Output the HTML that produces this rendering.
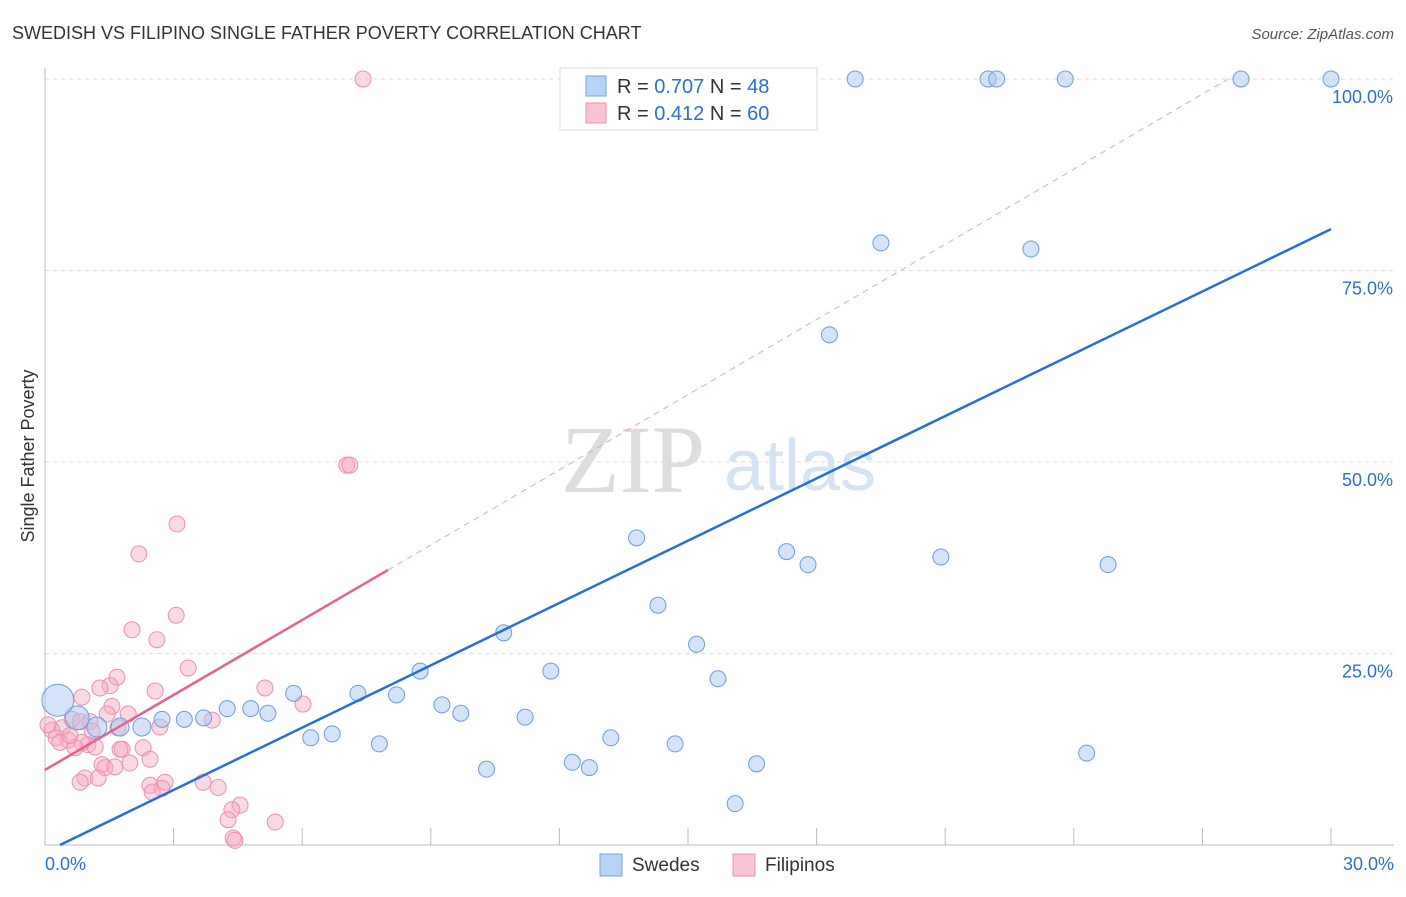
<!DOCTYPE html>
<html><head><meta charset="utf-8"><style>
body{margin:0;background:#fff;font-family:"Liberation Sans",sans-serif}
</style></head><body>
<svg width="1406" height="892" viewBox="0 0 1406 892" xmlns="http://www.w3.org/2000/svg">
<text x="12" y="39" font-size="18" fill="#333">SWEDISH VS FILIPINO SINGLE FATHER POVERTY CORRELATION CHART</text>
<text x="1394" y="39" font-size="15" fill="#555" font-style="italic" text-anchor="end">Source: ZipAtlas.com</text>
<text x="633" y="492" font-size="96" fill="#ddd" font-family="Liberation Serif" text-anchor="middle">ZIP</text>
<text x="800" y="490" font-size="72" fill="#d5e3f3" text-anchor="middle">atlas</text>
<g id="grid"></g><g id="axes"></g><g id="pts"></g><g id="lines"></g>
<text x="34" y="456" font-size="18" fill="#333" transform="rotate(-90 34 456)" text-anchor="middle">Single Father Poverty</text>
<g>
<rect x="560" y="68" width="257" height="62" fill="#fff" stroke="#ddd"/>
<rect x="586" y="76" width="20" height="20" fill="#b8d3f3" stroke="#7aa7e0"/>
<rect x="586" y="103" width="20" height="20" fill="#f9c4d4" stroke="#ec8fae"/>
<text x="617" y="93" font-size="20" fill="#333">R = <tspan fill="#2d6fd6">0.707</tspan>   N = <tspan fill="#2d6fd6">48</tspan></text>
<text x="617" y="120" font-size="20" fill="#333">R =  <tspan fill="#2d6fd6">0.412</tspan>   N = <tspan fill="#2d6fd6">60</tspan></text>
</g>
<g>
<rect x="600" y="854" width="22" height="22" fill="#b8d3f3" stroke="#7aa7e0"/>
<text x="632" y="871" font-size="19" fill="#333">Swedes</text>
<rect x="733" y="854" width="22" height="22" fill="#f9c4d4" stroke="#ec8fae"/>
<text x="765" y="871" font-size="19" fill="#333">Filipinos</text>
</g>
</svg>
<script>
const yTicks=[25,50,75,100];
const yTickLabels=["25.0%","50.0%","75.0%","100.0%"];
const xTickCount=10;
const swedesX=[18.9,22.0,22.2,23.8,27.9,30.0,19.5,23.0,18.3,13.8,17.3,17.8,20.9,24.8,14.3,10.7,15.2,8.75,11.8,15.7,5.8,7.3,8.2,4.8,4.25,5.2,9.26,9.7,11.2,3.7,3.25,2.73,2.26,1.75,1.21,0.75,0.3,6.2,6.7,7.8,13.2,14.7,10.3,12.3,12.7,16.6,16.1,24.3];
const swedesY=[100,100,100,100,100,100,78.6,77.8,66.6,40.1,38.3,36.6,37.6,36.6,31.3,27.7,26.2,22.7,22.7,21.7,19.8,19.8,19.6,17.8,17.8,17.2,18.3,17.2,16.7,16.6,16.4,16.4,15.4,15.4,15.4,16.6,18.9,14.0,14.5,13.2,14.0,13.2,9.9,10.8,10.1,10.6,5.4,12.0];
const swedesR=[8,8,8,8,8,8,8,8,8,8,8,8,8,8,8,8,8,8,8,8,8,8,8,8,8,8,8,8,8,8,8,8,9,9,10,12,16,8,8,8,8,8,8,8,8,8,8,8];
const filX=[7.42,7.04,7.11,3.08,2.19,3.06,2.03,2.61,3.34,1.68,1.52,1.28,5.13,2.57,0.86,6.02,1.56,1.94,1.45,0.63,0.82,2.68,1.05,3.9,1.7,0.4,0.16,0.26,0.54,1.0,0.86,0.7,1.17,2.29,1.8,1.75,1.33,1.98,1.4,1.63,0.93,1.24,0.82,2.45,2.8,2.73,3.69,4.04,2.5,4.55,4.36,4.27,5.37,4.39,4.43,0.35,0.58,0.07,1.1,2.45];
const filY=[100,49.6,49.6,41.9,38.0,30.0,28.1,26.8,23.1,21.9,20.8,20.5,20.5,20.1,19.3,18.4,18.1,17.1,17.1,16.4,16.1,15.4,16.1,16.3,15.3,15.3,15.0,14.0,13.7,13.1,13.4,12.7,12.8,12.7,12.5,12.5,10.5,10.7,10.1,10.2,8.75,8.75,8.2,7.8,8.2,7.4,8.2,7.5,6.9,5.2,4.6,3.3,3.0,0.9,0.6,13.4,14.3,15.7,14.9,11.2];
const blueLine=[[0.35,0],[30,80.4]];
const pinkSolid=[[0,9.8],[8,35.9]];
const pinkDash=[[8,35.9],[27.6,100]];
const X0=45,X1=1331,Y0=845,Y100=79;
const sx=v=>X0+(X1-X0)*v/30, sy=v=>Y0-(Y0-Y100)*v/100;
const NS="http://www.w3.org/2000/svg";
function mk(t,a,p){const e=document.createElementNS(NS,t);for(const k in a)e.setAttribute(k,a[k]);document.getElementById(p).appendChild(e);return e;}
yTicks.forEach((v,i)=>{
 const g=mk('line',{x1:X0,x2:1394,y1:sy(v),y2:sy(v),stroke:'#ddd','stroke-dasharray':'4,4'},'grid');
 
 
 const t=mk('text',{x:1393,y:sy(v)+24,'font-size':18,fill:'#2d6fd6','text-anchor':'end'},'axes');
 t.textContent=yTickLabels[i];
 
 
});
const ya=mk('line',{x1:X0,x2:X0,y1:68,y2:Y0,stroke:'#bbb'},'axes');


const xa=mk('line',{x1:X0,x2:1394,y1:Y0,y2:Y0,stroke:'#bbb'},'axes');


for(let i=1;i<=xTickCount;i++){const tk=mk('line',{x1:sx(i*3),x2:sx(i*3),y1:828,y2:Y0,stroke:'#bbb'},'axes');
 
 }
[["0.0%",45,'start'],["30.0%",1394,'end']].forEach(d=>{const t=mk('text',{x:d[1],y:870,'font-size':18,fill:'#2d6fd6','text-anchor':d[2]},'axes');t.textContent=d[0];
 
 });
filX.forEach((v,i)=>{const c=mk('circle',{cx:sx(v),cy:sy(filY[i]),r:8,fill:'rgba(246,170,195,0.45)',stroke:'#ec8fae','stroke-width':1},'pts');
 
 });
swedesX.forEach((v,i)=>{const c=mk('circle',{cx:sx(v),cy:sy(swedesY[i]),r:swedesR[i],fill:'rgba(170,200,240,0.5)',stroke:'#6a9ee0','stroke-width':1},'pts');
 
 });
function ln(p,col,w,dash,name){const l=mk('line',{x1:sx(p[0][0]),y1:sy(p[0][1]),x2:sx(p[1][0]),y2:sy(p[1][1]),stroke:col,'stroke-width':w},'lines');if(dash)l.setAttribute('stroke-dasharray',dash);
 
 }
ln(pinkDash,'#f0a0b8',1,'6,5','filipino-trend-extension');
ln(pinkSolid,'#e8628c',2.5,null,'filipino-trend-line');
ln(blueLine,'#2470d8',2.5,null,'swede-trend-line');
</script>
</body></html>
